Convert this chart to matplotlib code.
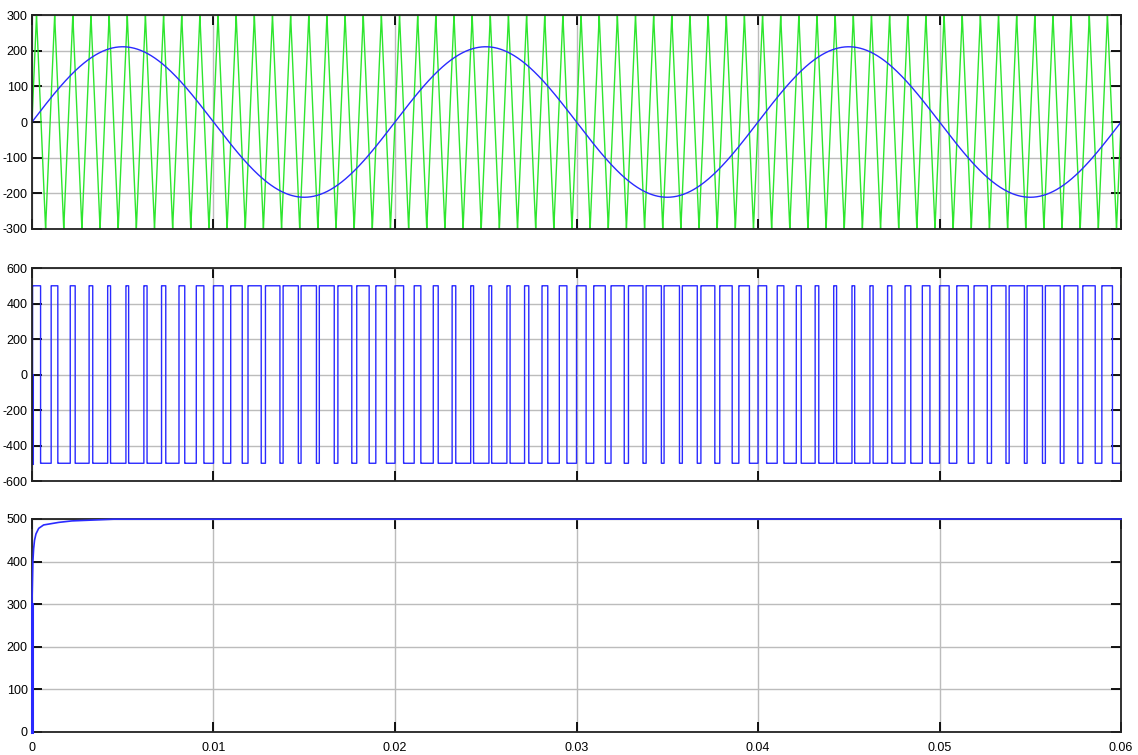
import numpy as np
import matplotlib
matplotlib.use("Agg")
import matplotlib.pyplot as plt


# Simulation window and signal parameters
T_END = 0.06
N_SAMPLES = 120001

SINE_AMP = 211.0       # modulating (reference) sine, volts
SINE_FREQ = 50.0       # Hz
CARRIER_AMP = 300.0    # triangular carrier, volts
CARRIER_FREQ = 1000.0  # Hz
PWM_LEVEL = 500.0      # inverter output, +/- volts

# Start-up glitch of the PWM output (time, value)
PWM_START_T = [0.0, 0.0, 0.00003]
PWM_START_V = [0.0, -500.0, -500.0]

# DC link voltage rise (time, value)
DC_T = [0.0, 0.0, 0.00005, 0.00009, 0.00014, 0.00022, 0.00037, 0.00064, 0.00147, 0.0022, 0.0045, 0.06]
DC_V = [0.0, 300.0, 400.0, 430.0, 450.0, 465.0, 478.0, 486.0, 492.0, 495.5, 499.5, 500.0]

X_TICKS = [0, 0.01, 0.02, 0.03, 0.04, 0.05, 0.06]
X_TICK_LABELS = ["0", "0.01", "0.02", "0.03", "0.04", "0.05", "0.06"]

BLUE = "#2a2aff"
GREEN = "#2ee62e"
GRID = "#bcbcbc"


def triangle(t, amp, freq):
    # zero at t=0, rising, peaks at quarter period
    phase = (t * freq + 0.25) % 1.0
    return amp * (4 * np.abs(phase - 0.5) - 1) * -1


def style_axis(ax, ylim, yticks, show_x_labels):
    ax.set_xlim(0, T_END)
    ax.set_ylim(*ylim)
    ax.set_yticks(yticks)
    ax.set_yticklabels([str(v) for v in yticks])
    ax.set_xticks(X_TICKS)
    if show_x_labels:
        ax.set_xticklabels(X_TICK_LABELS)
    else:
        ax.set_xticklabels([])
    ax.grid(True, color=GRID, linewidth=1.0)
    ax.set_axisbelow(True)
    ax.tick_params(direction="in", length=7, width=1.3, color="black",
                   top=True, right=True, labelsize=9, pad=3)
    ax.tick_params(axis="x", pad=7)
    for s in ax.spines.values():
        s.set_color("#222222")
        s.set_linewidth(1.3)


def main():
    plt.rcParams["font.family"] = ["Liberation Sans", "DejaVu Sans"]

    t = np.linspace(0, T_END, N_SAMPLES)
    sine = SINE_AMP * np.sin(2 * np.pi * SINE_FREQ * t)
    carrier = triangle(t, CARRIER_AMP, CARRIER_FREQ)
    pwm = np.where(carrier > sine, PWM_LEVEL, -PWM_LEVEL)

    fig = plt.figure(figsize=(11.38, 7.55), dpi=100)
    left, width = 0.0281, 0.957
    ax1 = fig.add_axes([left, 0.6967, width, 0.2834])
    ax2 = fig.add_axes([left, 0.3629, width, 0.2821])
    ax3 = fig.add_axes([left, 0.0305, width, 0.2821])

    # 1) carrier vs reference
    ax1.plot(t, carrier, color=GREEN, linewidth=1.0)
    ax1.plot(t, sine, color=BLUE, linewidth=1.0)
    style_axis(ax1, (-300, 300), list(range(-300, 301, 100)), False)

    # 2) PWM output
    mask = t > PWM_START_T[-1]
    t_pwm = np.concatenate([PWM_START_T, t[mask]])
    v_pwm = np.concatenate([PWM_START_V, pwm[mask]])
    ax2.plot(t_pwm, v_pwm, color=BLUE, linewidth=1.0, drawstyle="steps-post")
    ax2.plot(PWM_START_T[:2], PWM_START_V[:2], color=BLUE, linewidth=2.2)
    style_axis(ax2, (-600, 600), list(range(-600, 601, 200)), False)

    # 3) DC voltage
    ax3.plot(DC_T, DC_V, color=BLUE, linewidth=1.2, clip_on=False, zorder=5)
    ax3.plot(DC_T[:2], DC_V[:2], color=BLUE, linewidth=2.2, clip_on=False, zorder=5)
    style_axis(ax3, (0, 500), list(range(0, 501, 100)), True)

    fig.savefig("out.png", dpi=100)
    plt.close(fig)


if __name__ == "__main__":
    main()
